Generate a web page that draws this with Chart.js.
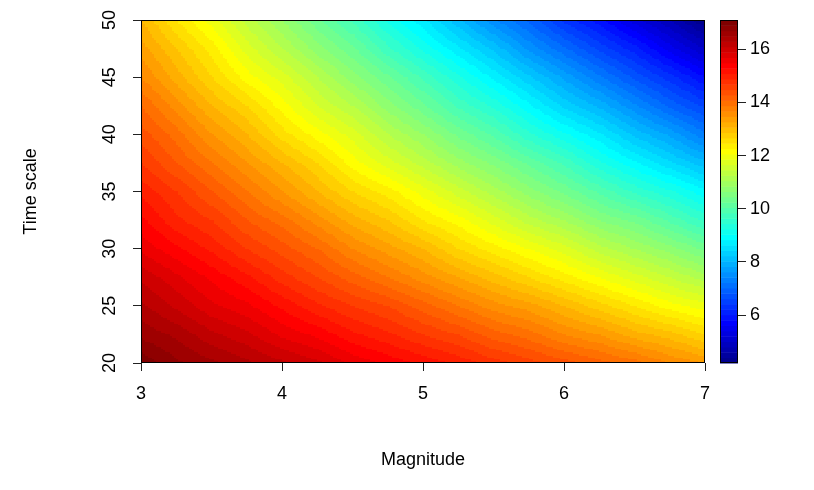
<!DOCTYPE html>
<html>
<head>
<meta charset="utf-8">
<script src="https://cdn.jsdelivr.net/npm/chart.js@4.4.1/dist/chart.umd.min.js"></script>
<style>
  html, body { margin: 0; padding: 0; background: #fff; }
  #wrap { position: relative; width: 814px; height: 490px; }
  #main { position: absolute; left: 0; top: 0; }
  #legend { position: absolute; left: 700px; top: 0; }
</style>
</head>
<body>
<div id="wrap">
  <canvas id="main" width="814" height="490"></canvas>
  <canvas id="legend" width="114" height="490"></canvas>
</div>
<script>
// surface grid: columns are magnitudes, rows are time scales (bottom row first)
const magnitudes = [3, 3.25, 3.5, 3.75, 4, 4.25, 4.5, 4.75, 5, 5.25, 5.5, 5.75, 6, 6.25, 6.5, 6.75, 7];
const timeScales = [20, 22.5, 25, 27.5, 30, 32.5, 35, 37.5, 40, 42.5, 45, 47.5, 50];
const surface = [
  [17.1, 16.8, 16.6, 16.4, 16.2, 16.0, 15.7, 15.5, 15.3, 15.1, 14.8, 14.6, 14.4, 14.2, 14.0, 13.7, 13.5],
  [16.7, 16.5, 16.2, 16.0, 15.7, 15.5, 15.2, 15.0, 14.7, 14.5, 14.2, 14.0, 13.7, 13.5, 13.2, 13.0, 12.7],
  [16.4, 16.1, 15.8, 15.6, 15.3, 15.0, 14.7, 14.5, 14.2, 13.9, 13.6, 13.4, 13.1, 12.8, 12.5, 12.2, 12.0],
  [16.1, 15.8, 15.5, 15.2, 14.8, 14.5, 14.2, 13.9, 13.6, 13.3, 13.0, 12.7, 12.4, 12.1, 11.8, 11.5, 11.2],
  [15.7, 15.4, 15.1, 14.7, 14.4, 14.1, 13.7, 13.4, 13.1, 12.7, 12.4, 12.1, 11.8, 11.4, 11.1, 10.8, 10.4],
  [15.4, 15.0, 14.7, 14.3, 14.0, 13.6, 13.2, 12.9, 12.5, 12.2, 11.8, 11.4, 11.1, 10.7, 10.4, 10.0, 9.6],
  [15.1, 14.7, 14.3, 13.9, 13.5, 13.1, 12.7, 12.4, 12.0, 11.6, 11.2, 10.8, 10.4, 10.0, 9.6, 9.3, 8.9],
  [14.7, 14.3, 13.9, 13.5, 13.1, 12.7, 12.2, 11.8, 11.4, 11.0, 10.6, 10.2, 9.8, 9.3, 8.9, 8.5, 8.1],
  [14.4, 14.0, 13.5, 13.1, 12.6, 12.2, 11.8, 11.3, 10.9, 10.4, 10.0, 9.5, 9.1, 8.7, 8.2, 7.8, 7.3],
  [14.1, 13.6, 13.1, 12.7, 12.2, 11.7, 11.3, 10.8, 10.3, 9.8, 9.4, 8.9, 8.4, 8.0, 7.5, 7.0, 6.6],
  [13.7, 13.2, 12.7, 12.2, 11.8, 11.3, 10.8, 10.3, 9.8, 9.3, 8.8, 8.3, 7.8, 7.3, 6.8, 6.3, 5.8],
  [13.4, 12.9, 12.4, 11.8, 11.3, 10.8, 10.3, 9.7, 9.2, 8.7, 8.2, 7.6, 7.1, 6.6, 6.1, 5.5, 5.0],
  [13.1, 12.5, 12.0, 11.4, 10.9, 10.3, 9.8, 9.2, 8.7, 8.1, 7.5, 7.0, 6.4, 5.9, 5.3, 4.8, 4.2]
];
const xTicks = [3, 4, 5, 6, 7];
const yTicks = [20, 25, 30, 35, 40, 45, 50];
const legendTicks = [6, 8, 10, 12, 14, 16];

// 64-step blue -> cyan -> yellow -> red palette
const palette = [
  "#00008F","#00009F","#0000AF","#0000BF","#0000CF","#0000DF","#0000EF","#0000FF",
  "#0010FF","#0020FF","#0030FF","#0040FF","#0050FF","#0060FF","#0070FF","#0080FF",
  "#008FFF","#009FFF","#00AFFF","#00BFFF","#00CFFF","#00DFFF","#00EFFF","#00FFFF",
  "#10FFEF","#20FFDF","#30FFCF","#40FFBF","#50FFAF","#60FF9F","#70FF8F","#80FF80",
  "#8FFF70","#9FFF60","#AFFF50","#BFFF40","#CFFF30","#DFFF20","#EFFF10","#FFFF00",
  "#FFEF00","#FFDF00","#FFCF00","#FFBF00","#FFAF00","#FF9F00","#FF8F00","#FF8000",
  "#FF7000","#FF6000","#FF5000","#FF4000","#FF3000","#FF2000","#FF1000","#FF0000",
  "#EF0000","#DF0000","#CF0000","#BF0000","#AF0000","#9F0000","#8F0000","#800000"
];

const FONT = "'Liberation Sans', Arial, sans-serif";
const zValues = surface.flat();
const zMin = Math.min(...zValues);
const zMax = Math.max(...zValues);
const paletteRGB = palette.map(h => [1, 3, 5].map(o => parseInt(h.substr(o, 2), 16)));

const cells = [];
timeScales.forEach((t, j) => {
  magnitudes.forEach((m, i) => {
    cells.push({ x: m, y: t, v: surface[j][i] });
  });
});

// the grid is written as grey levels, stretched over the plot area with
// smoothing, and every pixel is then looked up in the palette
const surfacePlugin = {
  id: 'surface',
  beforeDatasetsDraw(chart) {
    const { ctx, chartArea: a, scales: { x, y } } = chart;
    const nx = magnitudes.length, ny = timeScales.length;
    const grid = document.createElement('canvas');
    grid.width = nx;
    grid.height = ny;
    const gctx = grid.getContext('2d');
    chart.data.datasets[0].data.forEach(p => {
      const i = magnitudes.indexOf(p.x);
      const j = timeScales.indexOf(p.y);
      const g = Math.round((p.v - zMin) / (zMax - zMin) * 255);
      gctx.fillStyle = `rgb(${g},${g},${g})`;
      gctx.fillRect(i, ny - 1 - j, 1, 1);
    });

    const w = Math.round(a.right - a.left), h = Math.round(a.bottom - a.top);
    const dx = (magnitudes[1] - magnitudes[0]) / 2;
    const dy = (timeScales[1] - timeScales[0]) / 2;
    const x0 = x.getPixelForValue(magnitudes[0] - dx);
    const x1 = x.getPixelForValue(magnitudes[nx - 1] + dx);
    const y0 = y.getPixelForValue(timeScales[ny - 1] + dy);
    const y1 = y.getPixelForValue(timeScales[0] - dy);

    const img = document.createElement('canvas');
    img.width = w;
    img.height = h;
    const ictx = img.getContext('2d');
    ictx.imageSmoothingEnabled = true;
    ictx.drawImage(grid, x0 - a.left, y0 - a.top, x1 - x0, y1 - y0);
    const px = ictx.getImageData(0, 0, w, h);
    const d = px.data;
    for (let k = 0; k < d.length; k += 4) {
      let idx = Math.floor(d[k] / 256 * palette.length);
      idx = Math.max(0, Math.min(palette.length - 1, idx));
      const c = paletteRGB[idx];
      d[k] = c[0]; d[k + 1] = c[1]; d[k + 2] = c[2]; d[k + 3] = 255;
    }
    ictx.putImageData(px, 0, 0);
    ctx.drawImage(img, Math.round(a.left), Math.round(a.top));
  },
  afterDraw(chart) {
    const { ctx, chartArea: a, scales: { y } } = chart;
    ctx.save();
    ctx.strokeStyle = '#000';
    ctx.lineWidth = 1;
    ctx.strokeRect(Math.round(a.left) + 0.5, Math.round(a.top) + 0.5,
      Math.round(a.right - a.left) - 1, Math.round(a.bottom - a.top) - 1);

    // y tick labels, rotated like the axis
    ctx.fillStyle = '#000';
    ctx.font = '18px ' + FONT;
    ctx.textAlign = 'center';
    ctx.textBaseline = 'middle';
    yTicks.forEach(v => {
      ctx.save();
      ctx.translate(110, y.getPixelForValue(v));
      ctx.rotate(-Math.PI / 2);
      ctx.fillText(String(v), 0, 0);
      ctx.restore();
    });

    ctx.save();
    ctx.translate(31, (a.top + a.bottom) / 2);
    ctx.rotate(-Math.PI / 2);
    ctx.fillText('Time scale', 0, 0);
    ctx.restore();

    ctx.fillText('Magnitude', (a.left + a.right) / 2, 460);
    ctx.restore();
  }
};

new Chart(document.getElementById('main'), {
  type: 'scatter',
  data: {
    datasets: [{ data: cells, pointRadius: 0, pointHoverRadius: 0, showLine: false }]
  },
  options: {
    responsive: false,
    devicePixelRatio: 1,
    animation: false,
    events: [],
    layout: { padding: { left: 0, top: 20, right: 109, bottom: 0 } },
    plugins: { legend: { display: false }, tooltip: { enabled: false } },
    scales: {
      x: {
        type: 'linear',
        min: 3,
        max: 7,
        afterBuildTicks: s => { s.ticks = xTicks.map(v => ({ value: v })); },
        afterFit: s => { s.height = 127; },
        border: { display: false },
        grid: { drawOnChartArea: false, drawTicks: true, tickLength: 8, tickColor: '#222', lineWidth: 1 },
        ticks: { color: '#000', font: { family: FONT, size: 18 }, padding: 12, maxRotation: 0 }
      },
      y: {
        type: 'linear',
        min: 20,
        max: 50,
        afterBuildTicks: s => { s.ticks = yTicks.map(v => ({ value: v })); },
        afterFit: s => { s.width = 141; },
        border: { display: false },
        grid: { drawOnChartArea: false, drawTicks: true, tickLength: 8, tickColor: '#222', lineWidth: 1 },
        ticks: { display: false }
      }
    }
  },
  plugins: [surfacePlugin]
});

// colour strip for the legend, one band per palette entry
const stripPlugin = {
  id: 'strip',
  beforeDatasetsDraw(chart) {
    const { ctx, chartArea: a, scales: { y } } = chart;
    const step = (zMax - zMin) / palette.length;
    ctx.save();
    palette.forEach((c, k) => {
      const top = y.getPixelForValue(zMin + (k + 1) * step);
      const bottom = y.getPixelForValue(zMin + k * step);
      ctx.fillStyle = c;
      ctx.fillRect(a.left, top, a.right - a.left, bottom - top + 0.5);
    });
    ctx.strokeStyle = '#000';
    ctx.lineWidth = 1;
    ctx.strokeRect(Math.round(a.left) + 0.5, Math.round(a.top) + 0.5,
      Math.round(a.right - a.left) - 1, Math.round(a.bottom - a.top) - 1);
    ctx.restore();
  }
};

new Chart(document.getElementById('legend'), {
  type: 'scatter',
  data: { datasets: [{ data: [], pointRadius: 0 }] },
  options: {
    responsive: false,
    devicePixelRatio: 1,
    animation: false,
    events: [],
    layout: { padding: { left: 20, top: 20, right: 0, bottom: 127 } },
    plugins: { legend: { display: false }, tooltip: { enabled: false } },
    scales: {
      x: { display: false, min: 0, max: 1 },
      y: {
        type: 'linear',
        position: 'right',
        min: zMin,
        max: zMax,
        afterBuildTicks: s => { s.ticks = legendTicks.map(v => ({ value: v })); },
        afterFit: s => { s.width = 76; },
        border: { display: false },
        grid: { drawOnChartArea: false, drawTicks: true, tickLength: 8, tickColor: '#222', lineWidth: 1 },
        ticks: { color: '#000', font: { family: FONT, size: 18 }, padding: 4 }
      }
    }
  },
  plugins: [stripPlugin]
});
</script>
</body>
</html>
